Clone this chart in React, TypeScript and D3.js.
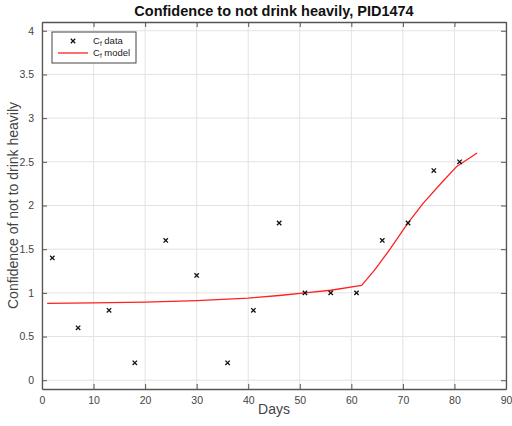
import { useEffect, useRef } from "react";
import * as d3 from "d3";

const dataDays = [2, 7, 13, 18, 24, 30, 36, 41, 46, 51, 56, 61, 66, 71, 76, 81];
const dataValues = [1.4, 0.6, 0.8, 0.2, 1.6, 1.2, 0.2, 0.8, 1.8, 1.0, 1.0, 1.0, 1.6, 1.8, 2.4, 2.5];

const modelDays = [1, 10, 20, 30, 40, 46, 51, 56, 62, 64.5, 67.5, 71, 74, 77.5, 80.5, 84.4];
const modelValues = [0.88, 0.885, 0.895, 0.912, 0.94, 0.97, 1.0, 1.03, 1.085, 1.26, 1.5, 1.8, 2.03, 2.26, 2.45, 2.6];

const xTicks = [0, 10, 20, 30, 40, 50, 60, 70, 80, 90];
const yTicks = [0, 0.5, 1, 1.5, 2, 2.5, 3, 3.5, 4];

const App = () => {
  const ref = useRef<SVGSVGElement>(null);

  useEffect(() => {
    if (!ref.current) return;
    const width = 512;
    const height = 426;
    const margin = { top: 22, right: 6, bottom: 37, left: 42 };
    const font = "'Liberation Sans', Arial, sans-serif";

    const svg = d3.select(ref.current);
    svg.selectAll("*").remove();

    const x = d3.scaleLinear().domain([0, 90]).range([margin.left, width - margin.right]);
    const y = d3.scaleLinear().domain([-0.1, 4.1]).range([height - margin.bottom, margin.top]);

    svg.append("rect").attr("width", width).attr("height", height).attr("fill", "white");

    // grid
    const grid = svg.append("g").attr("stroke", "#e3e3e3").attr("stroke-width", 1);
    xTicks.forEach((t) => {
      grid.append("line").attr("x1", x(t)).attr("x2", x(t)).attr("y1", y(-0.1)).attr("y2", y(4.1));
    });
    yTicks.forEach((t) => {
      grid.append("line").attr("x1", x(0)).attr("x2", x(90)).attr("y1", y(t)).attr("y2", y(t));
    });

    // axes with inward ticks (box on)
    const axisColor = "#555";
    const xAxis = svg
      .append("g")
      .attr("transform", `translate(0,${y(-0.1)})`)
      .call(d3.axisBottom(x).tickValues(xTicks).tickSizeInner(-5).tickSizeOuter(0).tickPadding(8));
    const yAxis = svg
      .append("g")
      .attr("transform", `translate(${x(0)},0)`)
      .call(d3.axisLeft(y).tickValues(yTicks).tickSizeInner(-5).tickSizeOuter(0).tickPadding(8).tickFormat(d3.format("~g")));
    const xTop = svg
      .append("g")
      .attr("transform", `translate(0,${y(4.1)})`)
      .call(d3.axisTop(x).tickValues(xTicks).tickSizeInner(-5).tickSizeOuter(0).tickFormat(() => ""));
    const yRight = svg
      .append("g")
      .attr("transform", `translate(${x(90)},0)`)
      .call(d3.axisRight(y).tickValues(yTicks).tickSizeInner(-5).tickSizeOuter(0).tickFormat(() => ""));

    [xAxis, yAxis, xTop, yRight].forEach((g) => {
      g.select(".domain").attr("stroke", axisColor).attr("stroke-width", 1.3);
      g.selectAll(".tick line").attr("stroke", axisColor);
      g.selectAll("text").attr("fill", "#444").style("font-family", font).style("font-size", "10.5px");
    });

    // model line
    const line = d3
      .line<number>()
      .x((_, i) => x(modelDays[i]))
      .y((d) => y(d));
    svg
      .append("path")
      .datum(modelValues)
      .attr("d", line)
      .attr("fill", "none")
      .attr("stroke", "#ff2020")
      .attr("stroke-width", 1.3)
      .attr("stroke-linejoin", "round");

    // data markers
    const mk = 2.2;
    const pts = svg.append("g").attr("stroke", "#111").attr("stroke-width", 1.3);
    dataValues.forEach((v, i) => {
      const cx = x(dataDays[i]);
      const cy = y(v);
      pts.append("path").attr("d", `M${cx - mk},${cy - mk}L${cx + mk},${cy + mk}M${cx - mk},${cy + mk}L${cx + mk},${cy - mk}`);
    });

    // title and labels
    svg
      .append("text")
      .attr("x", (x(0) + x(90)) / 2)
      .attr("y", 16)
      .attr("text-anchor", "middle")
      .style("font-family", font)
      .style("font-size", "14.5px")
      .style("font-weight", "bold")
      .attr("fill", "#111")
      .text("Confidence to not drink heavily, PID1474");

    svg
      .append("text")
      .attr("x", (x(0) + x(90)) / 2)
      .attr("y", 414)
      .attr("text-anchor", "middle")
      .style("font-family", font)
      .style("font-size", "14px")
      .attr("fill", "#444")
      .text("Days");

    svg
      .append("text")
      .attr("transform", `translate(18,${(y(-0.1) + y(4.1)) / 2}) rotate(-90)`)
      .attr("text-anchor", "middle")
      .style("font-family", font)
      .style("font-size", "14px")
      .attr("fill", "#444")
      .text("Confidence of not to drink heavily");

    // legend
    const lg = svg.append("g");
    lg.append("rect")
      .attr("x", 52)
      .attr("y", 32)
      .attr("width", 84)
      .attr("height", 31)
      .attr("fill", "white")
      .attr("stroke", "#444")
      .attr("stroke-width", 1);
    const lx = 73;
    const ly1 = 41;
    lg.append("path")
      .attr("d", `M${lx - mk},${ly1 - mk}L${lx + mk},${ly1 + mk}M${lx - mk},${ly1 + mk}L${lx + mk},${ly1 - mk}`)
      .attr("stroke", "#111")
      .attr("stroke-width", 1.3);
    lg.append("line")
      .attr("x1", 58)
      .attr("x2", 88)
      .attr("y1", 53)
      .attr("y2", 53)
      .attr("stroke", "#ff2020")
      .attr("stroke-width", 1.3);
    const labels = ["data", "model"];
    labels.forEach((l, i) => {
      const t = lg
        .append("text")
        .attr("x", 93)
        .attr("y", 44 + i * 12)
        .style("font-family", font)
        .style("font-size", "9.5px")
        .attr("fill", "#222");
      t.append("tspan").text("C");
      t.append("tspan").attr("dy", 2).style("font-size", "6.5px").text("f");
      t.append("tspan").attr("dy", -2).text(" " + l);
    });
  }, []);

  return (
    <svg
      ref={ref}
      width={512}
      height={426}
      style={{ position: "absolute", left: 0, top: 0, display: "block" }}
    />
  );
};

export default App;
